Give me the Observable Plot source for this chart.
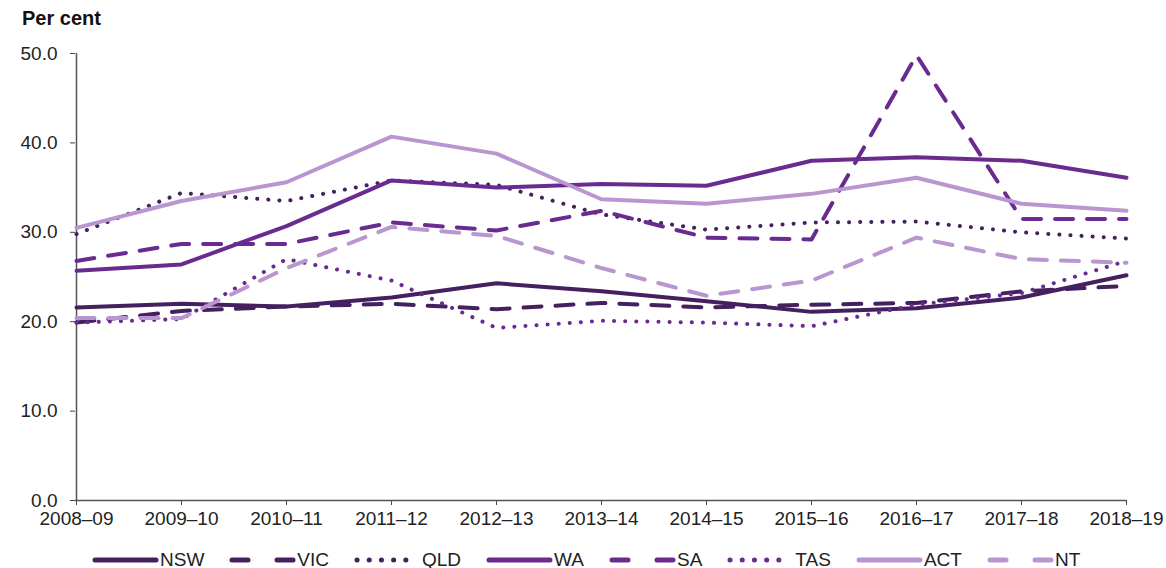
<!DOCTYPE html>
<html>
<head>
<meta charset="utf-8">
<script src="https://cdn.jsdelivr.net/npm/d3@7"></script>
<script src="https://cdn.jsdelivr.net/npm/@observablehq/plot@0.6"></script>
<style>
  body { margin: 0; background: #fff; font-family: "Liberation Sans", Arial, sans-serif; }
  #wrap { position: relative; width: 1166px; height: 568px; }
  #ylabel { position: absolute; left: 22px; top: 7px; font-weight: bold; font-size: 20px; color: #111; }
  #legend { position: absolute; left: 92px; top: 547px; height: 26px; display: flex; align-items: center; font-family: "Liberation Sans", Arial, sans-serif; font-size: 19px; color: #222; }
  #legend .item { display: flex; align-items: center; margin-right: 25px; }
  #legend svg { margin-right: 1px; }
</style>
</head>
<body>
<div id="wrap">
  <div id="ylabel">Per cent</div>
  <div id="chart"></div>
  <div id="legend"></div>
</div>
<script>
const years = ["2008–09","2009–10","2010–11","2011–12","2012–13","2013–14","2014–15","2015–16","2016–17","2017–18","2018–19"];
const yTicks = [0, 10, 20, 30, 40, 50];

const NSW = [21.6, 22.0, 21.7, 22.7, 24.3, 23.4, 22.3, 21.1, 21.5, 22.7, 25.2];
const VIC = [19.9, 21.2, 21.7, 22.0, 21.4, 22.1, 21.6, 21.9, 22.1, 23.4, 24.0];
const QLD = [29.8, 34.4, 33.5, 35.8, 35.3, 32.0, 30.3, 31.1, 31.2, 30.0, 29.3];
const WA  = [25.7, 26.4, 30.7, 35.8, 35.0, 35.4, 35.2, 38.0, 38.4, 38.0, 36.1];
const SA  = [26.8, 28.7, 28.7, 31.1, 30.2, 32.4, 29.4, 29.2, 49.8, 31.5, 31.5];
const TAS = [19.9, 20.3, 27.0, 24.6, 19.3, 20.1, 19.9, 19.5, 21.9, 23.2, 26.8];
const ACT = [30.5, 33.5, 35.6, 40.7, 38.8, 33.7, 33.2, 34.3, 36.1, 33.2, 32.4];
const NT  = [20.4, 20.4, 26.0, 30.6, 29.6, 26.0, 22.9, 24.6, 29.4, 27.0, 26.6];

const seriesNames = ["NSW","VIC","QLD","WA","SA","TAS","ACT","NT"];
const seriesValues = [NSW, VIC, QLD, WA, SA, TAS, ACT, NT];

const DARK = "#44205f", MED = "#6a2b91", LIGHT = "#b996cf";
const SOLID = null, DASH = "18 14", DOT = "0.1 11";
const styles = {
  NSW: {stroke: DARK, dash: SOLID},
  VIC: {stroke: DARK, dash: DASH},
  QLD: {stroke: DARK, dash: DOT},
  WA:  {stroke: MED, dash: SOLID},
  SA:  {stroke: MED, dash: DASH},
  TAS: {stroke: MED, dash: DOT},
  ACT: {stroke: LIGHT, dash: SOLID},
  NT:  {stroke: LIGHT, dash: DASH}
};

const data = seriesNames.map((name, i) => ({
  name,
  rows: years.map((year, j) => ({year, value: seriesValues[i][j]}))
}));

const lineMarks = data.map(s => Plot.line(s.rows, {
  x: "year", y: "value",
  stroke: styles[s.name].stroke,
  strokeWidth: 4,
  strokeDasharray: styles[s.name].dash,
  strokeLinecap: "round",
  strokeLinejoin: "round"
}));

const chart = Plot.plot({
  width: 1166,
  height: 540,
  marginTop: 53,
  marginBottom: 40,
  marginLeft: 75,
  marginRight: 40,
  style: {fontFamily: "'Liberation Sans', Arial, sans-serif", fontSize: "19px", color: "#222", background: "#fff"},
  x: {type: "point", domain: years, padding: 0, label: null},
  y: {domain: [0, 50], ticks: yTicks, label: null},
  marks: [
    Plot.axisY({ticks: yTicks, tickFormat: d3.format(".1f"), tickSize: 5, tickPadding: 13, stroke: "#444", fontSize: 19, label: null}),
    Plot.axisX({tickSize: 5, tickPadding: 6, stroke: "#444", fontSize: 19, label: null}),
    Plot.ruleX([years[0]], {y1: 0, y2: 50, stroke: "#555", strokeWidth: 1.5}),
    Plot.ruleY([0], {stroke: "#555", strokeWidth: 1.5}),
    ...lineMarks
  ]
});
document.getElementById("chart").appendChild(chart);

// Legend
const legend = d3.select("#legend");
seriesNames.forEach(name => {
  const st = styles[name];
  const item = legend.append("div").attr("class", "item");
  const svg = item.append("svg").attr("width", 67).attr("height", 10);
  svg.append("line")
    .attr("x1", 3).attr("x2", 64).attr("y1", 5).attr("y2", 5)
    .attr("stroke", st.stroke).attr("stroke-width", 5)
    .attr("stroke-linecap", "round")
    .attr("stroke-dasharray", st.dash === DASH ? "16 29" : st.dash === DOT ? "0.1 12.1" : null);
  item.append("span").text(name);
});
</script>
</body>
</html>
